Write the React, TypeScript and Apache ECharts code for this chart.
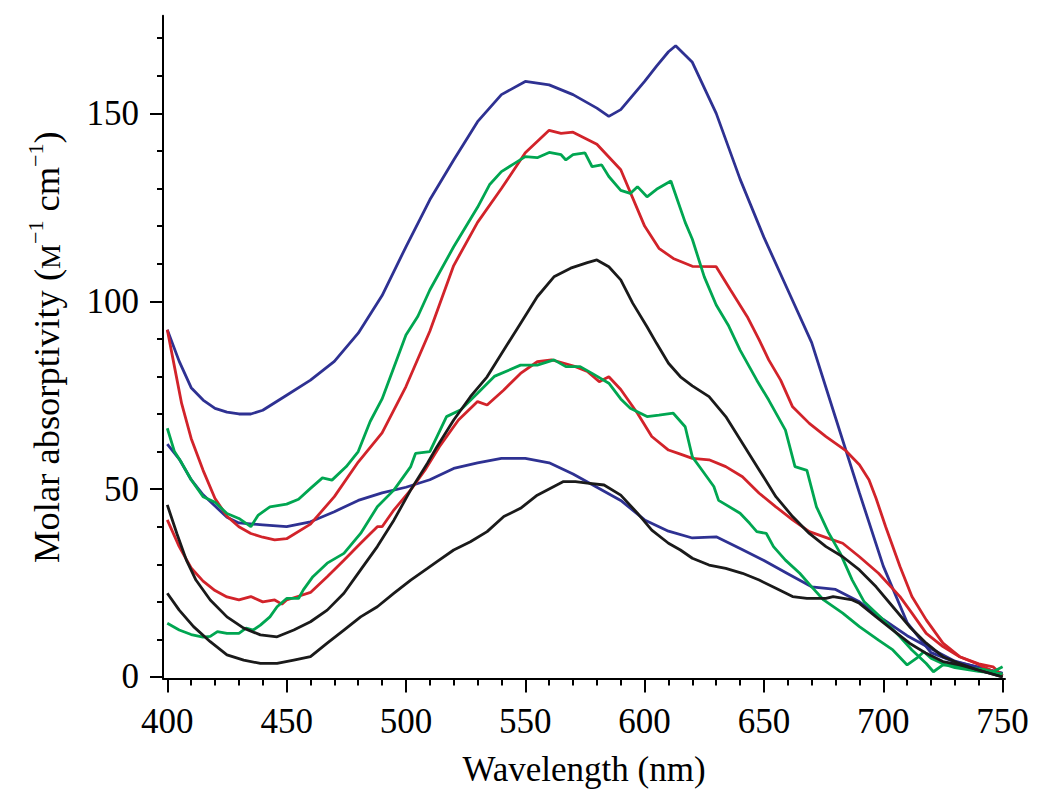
import React, { useEffect, useRef } from "react";
import * as echarts from "echarts";

const FONT = '"Liberation Serif", "Times New Roman", serif';

const xMajorTicks = [400, 450, 500, 550, 600, 650, 700, 750];
const xMinorTicks = [410, 420, 430, 440, 460, 470, 480, 490, 510, 520, 530, 540, 560, 570, 580, 590, 610, 620, 630, 640, 660, 670, 680, 690, 710, 720, 730, 740];
const yMajorTicks = [0, 50, 100, 150];
const yMinorTicks = [10, 20, 30, 40, 60, 70, 80, 90, 110, 120, 130, 140, 160, 170];

const blueUpper: [number, number][] = [
  [400, 92.4], [405, 84], [410, 77], [415, 73.7], [420, 71.5], [425, 70.5], [430, 70], [435, 70], [440, 71],
  [450, 75], [460, 79], [470, 84], [480, 91.5], [490, 101.5], [500, 114.5], [510, 127], [520, 137.6],
  [530, 147.8], [540, 155], [550, 158.5], [560, 157.6], [570, 155], [580, 151.4], [585, 149.2], [590, 151],
  [600, 158.5], [605, 162.6], [610, 166.4], [613, 168], [620, 163.6], [630, 150], [640, 132.5], [650, 117],
  [660, 103], [670, 89], [680, 69], [690, 49], [700, 29.5], [710, 14.5], [720, 6.5], [730, 4], [740, 2.6], [750, 1],
];

const blueLower: [number, number][] = [
  [400, 62], [405, 58], [410, 52.5], [415, 48.5], [420, 45.5], [425, 42.5], [430, 41], [440, 40.5], [450, 40],
  [460, 41.3], [470, 44], [480, 47], [490, 49], [500, 50.5], [510, 52.5], [520, 55.5], [530, 57], [540, 58.2],
  [550, 58.2], [560, 57], [570, 54], [580, 50.5], [590, 47], [600, 41.8], [610, 38.8], [620, 37], [630, 37.3],
  [640, 34.2], [650, 31], [660, 27.5], [670, 24], [680, 23.3], [690, 20], [700, 15.3], [710, 11], [720, 7.5],
  [730, 4.2], [740, 2.5], [750, 1],
];

const redUpper: [number, number][] = [
  [400, 92.4], [403, 82.6], [406, 72.8], [410, 63.5], [415, 55], [420, 47.5], [425, 42.8], [430, 40], [435, 38.2],
  [440, 37.2], [445, 36.5], [450, 36.8], [460, 40.7], [470, 48], [480, 57.2], [490, 65], [500, 77.3], [510, 92],
  [520, 109.5], [530, 121], [540, 130], [550, 139.5], [560, 145.5], [565, 144.7], [570, 145], [580, 141.8],
  [590, 135], [600, 120], [606, 114.1], [612, 111.4], [620, 109.3], [630, 109.2], [636, 103], [643, 95.9],
  [648, 89.7], [652, 84.4], [657, 79], [662, 71.9], [669, 67.5], [676, 64], [684, 60.4], [690, 56.5], [694, 52.5],
  [697, 47.5], [701, 40], [707, 29.4], [712, 21.4], [718, 15.2], [725, 9], [732, 5.4], [740, 3.5], [746, 2.7], [750, 0.3],
];

const redLower: [number, number][] = [
  [400, 41.8], [405, 34.7], [410, 29], [415, 25.5], [420, 23], [425, 21.3], [430, 20.5], [435, 21.4], [440, 20],
  [445, 20.5], [448, 19.4], [450, 20.5], [455, 21.5], [460, 22.5], [467, 26.7], [474, 31.1], [481, 35.6],
  [488, 40], [490, 40], [495, 44.5], [502, 49.8], [508, 55.1], [514, 61.3], [522, 68.4], [530, 73.3], [534, 72.4],
  [541, 76.4], [548, 80.8], [555, 83.9], [561, 84.4], [564, 83.9], [571, 82.6], [576, 81.3], [581, 78.6],
  [585, 79.9], [590, 76.5], [597, 70.2], [603, 64], [610, 60.4], [615, 59.3], [620, 58.2], [627, 57.8],
  [634, 56], [641, 53.3], [648, 48.9], [655, 45.3], [662, 41.8], [669, 38.7], [677, 36.9], [683, 35.6], [690, 32],
  [698, 27.6], [707, 21.4], [712, 17], [718, 11.6], [725, 8.1], [732, 5.4], [739, 3.6], [750, 0.3],
];

const greenUpper: [number, number][] = [
  [400, 66.2], [403, 60], [406, 57], [410, 52.5], [415, 48], [420, 46.5], [425, 43.5], [430, 42.2], [435, 40],
  [438, 43], [443, 45.3], [450, 46], [455, 47.3], [460, 50.2], [465, 53], [469, 52.4], [475, 56], [480, 60],
  [485, 68], [490, 74], [495, 82.5], [500, 91], [505, 96], [510, 103], [520, 114.5], [530, 125], [535, 131],
  [540, 134.5], [545, 136.5], [550, 138.5], [555, 138.2], [560, 139.6], [565, 139], [567, 137.6], [570, 139],
  [575, 139.5], [578, 135.8], [582, 136.3], [585, 133.2], [590, 129.5], [594, 128.7], [597, 130.5],
  [601, 127.8], [605, 129.8], [611, 132], [614, 126.5], [617, 121], [620, 116.5], [625, 106.5], [630, 99],
  [635, 93.7], [640, 87], [647, 79], [652, 73.7], [659, 65.7], [663, 56], [668, 55], [672, 45.3], [677, 38.5],
  [682, 32.9], [687, 25.8], [692, 20], [700, 15.2], [707, 10.7], [712, 7.2], [718, 3.6], [721, 1.4], [725, 3.2],
  [730, 3], [736, 2.3], [742, 2], [746, 1.4], [750, 2.7],
];

const greenLower: [number, number][] = [
  [400, 14.3], [405, 12.5], [410, 11.3], [415, 10.6], [418, 10.8], [421, 12.1], [425, 11.6], [430, 11.6],
  [433, 13], [436, 12.5], [439, 13.8], [443, 16], [446, 18.7], [450, 20.9], [455, 20.9], [457, 23.2],
  [461, 26.7], [467, 30.3], [474, 32.9], [481, 38.2], [488, 45.3], [495, 49.8], [502, 56], [504, 59.5],
  [510, 60], [513, 64], [517, 69.3], [523, 71.1], [530, 75.5], [537, 80], [548, 83], [555, 83], [562, 84.4],
  [567, 82.6], [573, 82.6], [578, 80.8], [585, 78.2], [590, 74], [594, 71.5], [601, 69.3], [606, 69.7],
  [612, 70.2], [617, 66.6], [620, 58.6], [624, 55.1], [629, 50.7], [631, 47], [640, 43.6], [644, 40.9],
  [647, 38.7], [651, 38.2], [654, 34.7], [659, 31.1], [665, 27.6], [670, 24], [675, 20.5], [683, 17],
  [690, 13.4], [698, 9.8], [704, 7.2], [710, 3.2], [714, 5], [717, 6.7], [720, 5], [725, 3.5], [730, 2.5],
  [740, 1.5], [750, 0.8],
];

const blackUpper: [number, number][] = [
  [400, 45.8], [404, 38.2], [408, 31.1], [412, 25.8], [418, 20.5], [425, 16], [432, 13], [439, 11.2],
  [446, 10.7], [453, 12.5], [460, 14.7], [467, 17.8], [474, 22.3], [481, 28.5], [488, 34.7], [495, 41.8],
  [502, 49.8], [509, 56.9], [513, 61.3], [520, 68.4], [527, 74.6], [534, 79.9], [541, 87], [548, 94.1],
  [555, 101.2], [562, 106.5], [569, 108.8], [576, 110.3], [580, 111], [585, 109.2], [590, 105.7], [595, 99.5],
  [601, 93.2], [605, 88.8], [610, 83.5], [615, 79.9], [620, 77.5], [627, 74.6], [634, 69.3], [641, 62.2],
  [648, 55.1], [655, 48], [662, 42.7], [669, 38.2], [676, 34.7], [683, 32], [690, 28.5], [697, 24], [704, 18.7],
  [711, 13.4], [718, 9], [725, 5.4], [732, 3.6], [739, 2], [750, 0],
];

const blackLower: [number, number][] = [
  [400, 22.3], [405, 17.8], [411, 13.4], [418, 9.4], [425, 5.9], [432, 4.5], [439, 3.6], [446, 3.6], [453, 4.5],
  [460, 5.4], [467, 9], [474, 12.5], [481, 16], [488, 18.7], [495, 22.3], [502, 25.8], [509, 28.9], [513, 30.7],
  [520, 33.8], [527, 36], [534, 38.7], [541, 42.7], [548, 44.9], [555, 48.4], [562, 50.7], [566, 52], [571, 52],
  [576, 51.6], [583, 51.1], [590, 48.4], [597, 43.6], [603, 39.1], [610, 35.6], [615, 33.8], [620, 31.6],
  [627, 29.8], [634, 28.9], [641, 27.6], [648, 25.8], [655, 23.6], [662, 21.4], [668, 20.9], [676, 20.9],
  [679, 21.4], [687, 20.5], [690, 19.6], [697, 16], [704, 12.5], [711, 9], [718, 6.3], [725, 4.1], [732, 3.2],
  [739, 2], [750, 0],
];

const seriesList = [
  { name: "blue-upper", data: blueUpper, color: "#2e3192" },
  { name: "blue-lower", data: blueLower, color: "#2e3192" },
  { name: "red-upper", data: redUpper, color: "#d2232a" },
  { name: "red-lower", data: redLower, color: "#d2232a" },
  { name: "green-upper", data: greenUpper, color: "#00a651" },
  { name: "green-lower", data: greenLower, color: "#00a651" },
  { name: "black-upper", data: blackUpper, color: "#1a1a1a" },
  { name: "black-lower", data: blackLower, color: "#1a1a1a" },
];

const X_MIN = 398.2;
const X_MAX = 751;
const Y_MIN = -0.4;
const Y_MAX = 176;

export default function App() {
  const ref = useRef<HTMLDivElement>(null);

  useEffect(() => {
    if (!ref.current) return;
    const chart = echarts.init(ref.current, null, { renderer: "svg" });
    const axisLineStyle = { color: "#000", width: 2 };
    chart.setOption({
      animation: false,
      backgroundColor: "#fff",
      grid: { left: 155, right: 37, top: 7.7, bottom: 111.5, containLabel: false, outerBoundsMode: "none" },
      xAxis: [
        {
          type: "value",
          min: X_MIN,
          max: X_MAX,
          position: "bottom",
          axisLine: { show: true, onZero: false, lineStyle: axisLineStyle },
          axisTick: { show: true, inside: false, length: 14, customValues: xMajorTicks, lineStyle: axisLineStyle },
          axisLabel: {
            show: true,
            customValues: xMajorTicks,
            margin: 25,
            fontSize: 35,
            fontFamily: FONT,
            color: "#000",
          },
          splitLine: { show: false },
          name: "Wavelength (nm)",
          nameLocation: "middle",
          nameGap: 73,
          nameTextStyle: { fontSize: 35, fontFamily: FONT, color: "#000" },
        },
        {
          type: "value",
          min: X_MIN,
          max: X_MAX,
          position: "bottom",
          axisLine: { show: false, onZero: false },
          axisTick: { show: true, inside: false, length: 7, customValues: xMinorTicks, lineStyle: axisLineStyle },
          axisLabel: { show: false },
          splitLine: { show: false },
        },
      ],
      yAxis: [
        {
          type: "value",
          min: Y_MIN,
          max: Y_MAX,
          position: "left",
          axisLine: { show: true, onZero: false, lineStyle: axisLineStyle },
          axisTick: { show: true, inside: false, length: 13, customValues: yMajorTicks, lineStyle: axisLineStyle },
          axisLabel: {
            show: true,
            customValues: yMajorTicks,
            margin: 24,
            fontSize: 35,
            fontFamily: FONT,
            color: "#000",
          },
          splitLine: { show: false },
          name: "{a|Molar absorptivity (}{s|M}{p|−1}{a| cm}{p|−1}{a|)}",
          nameLocation: "middle",
          nameRotate: 90,
          nameGap: 98,
          nameTextStyle: {
            fontSize: 36.5,
            fontFamily: FONT,
            color: "#000",
            rich: {
              a: { fontSize: 36.5, fontFamily: FONT, color: "#000", lineHeight: 44, verticalAlign: "bottom" },
              s: { fontSize: 28, fontFamily: FONT, color: "#000", lineHeight: 44, verticalAlign: "bottom", padding: [0, 0, 1, 0] },
              p: { fontSize: 22, fontFamily: FONT, color: "#000", lineHeight: 44, verticalAlign: "top", padding: [3, 0, 0, 0] },
            },
          },
        },
        {
          type: "value",
          min: Y_MIN,
          max: Y_MAX,
          position: "left",
          axisLine: { show: false, onZero: false },
          axisTick: { show: true, inside: false, length: 6, customValues: yMinorTicks, lineStyle: axisLineStyle },
          axisLabel: { show: false },
          splitLine: { show: false },
        },
      ],
      series: seriesList.map((s) => ({
        name: s.name,
        type: "line",
        xAxisIndex: 0,
        yAxisIndex: 0,
        data: s.data,
        showSymbol: false,
        symbol: "none",
        smooth: false,
        lineStyle: { color: s.color, width: 2.8 },
        itemStyle: { color: s.color },
        z: 2,
      })),
    });
    return () => chart.dispose();
  }, []);

  return <div ref={ref} style={{ width: 1034, height: 782 }} />;
}
